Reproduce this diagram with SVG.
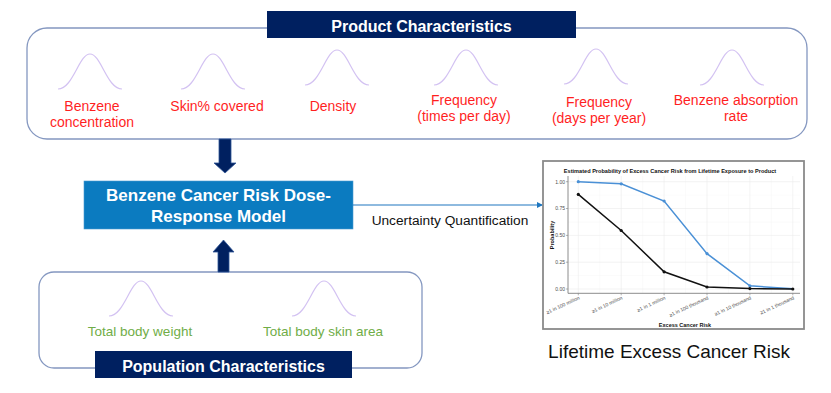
<svg xmlns="http://www.w3.org/2000/svg" xmlns:xlink="http://www.w3.org/1999/xlink" width="831" height="393" viewBox="0 0 831 393">
<style>
.frame{fill:#fff;stroke:#8497C0;stroke-width:1.3}
.bar{fill:#002060}
.bartxt{font-family:"Liberation Sans",Arial,sans-serif;font-weight:bold;font-size:16px;fill:#fff;text-anchor:middle}
.bell{fill:none;stroke:#D3C2F2;stroke-width:1.2}
.red{font-family:"Liberation Sans",Arial,sans-serif;font-size:14px;fill:#FF1F1F;text-anchor:middle}
.green{font-family:"Liberation Sans",Arial,sans-serif;font-size:13.5px;fill:#70AD47;text-anchor:middle}
.blk{fill:#002060;stroke:#2F5597;stroke-width:0.8}
.ct{font-family:"Liberation Sans",Arial,sans-serif}
.grid{stroke:#EBEBEB;stroke-width:0.6}
.gridm{stroke:#F4F4F4;stroke-width:0.4}
.tick{font-family:"Liberation Sans",Arial,sans-serif;font-size:5px;fill:#4D4D4D}
</style>
<defs>
<path id="bell" d="M-32,0 C-17,0 -11,-35 0,-35 C11,-35 17,0 32,0"/>
<marker id="ah" markerWidth="6" markerHeight="6" refX="5" refY="3" orient="auto" markerUnits="userSpaceOnUse">
<path d="M0,0 L6,3 L0,6 z" fill="#1F77C0"/>
</marker>
</defs>
<rect width="831" height="393" fill="#fff"/>

<g id="product-characteristics">
<rect class="frame" x="27" y="28" width="780" height="111" rx="20"/>
<rect class="bar" x="267" y="11" width="309" height="27"/>
<text class="bartxt" x="421.5" y="31.5">Product Characteristics</text>
<use xlink:href="#bell" class="bell" x="90" y="89"/>
<use xlink:href="#bell" class="bell" x="213" y="89"/>
<use xlink:href="#bell" class="bell" x="337" y="85"/>
<use xlink:href="#bell" class="bell" x="466" y="85"/>
<use xlink:href="#bell" class="bell" x="596" y="84"/>
<use xlink:href="#bell" class="bell" x="732" y="85"/>
<text class="red" x="92" y="111">Benzene</text>
<text class="red" x="92" y="127">concentration</text>
<text class="red" x="217" y="111">Skin% covered</text>
<text class="red" x="333" y="111">Density</text>
<text class="red" x="464" y="105">Frequency</text>
<text class="red" x="464" y="121">(times per day)</text>
<text class="red" x="599" y="107">Frequency</text>
<text class="red" x="599" y="123">(days per year)</text>
<text class="red" x="736" y="105">Benzene absorption</text>
<text class="red" x="736" y="121">rate</text>
</g>

<g id="dose-response-model">
<rect x="84" y="181" width="269" height="48" fill="#0B7BC0" stroke="#4A9AD0" stroke-width="0.6"/>
<text class="bartxt" style="font-size:17px" x="218.5" y="201">Benzene Cancer Risk Dose-</text>
<text class="bartxt" style="font-size:17px" x="218.5" y="222">Response Model</text>
</g>

<g id="population-characteristics">
<rect class="frame" x="39" y="272" width="383" height="96" rx="15"/>
<use xlink:href="#bell" class="bell" x="141" y="316"/>
<use xlink:href="#bell" class="bell" x="324" y="316"/>
<text class="green" x="140" y="336">Total body weight</text>
<text class="green" x="323" y="336">Total body skin area</text>
<rect class="bar" x="95" y="351" width="257" height="27"/>
<text class="bartxt" x="223.5" y="371.5">Population Characteristics</text>
</g>

<g id="connectors">
<polygon class="blk" points="219,139 231,139 231,163 236,163 225,173 214,163 219,163"/>
<polygon class="blk" points="223.5,240 234,252 229,252 229,272 218,272 218,252 213,252"/>
<line x1="353" y1="205" x2="542" y2="205" stroke="#1F77C0" stroke-width="1.2" marker-end="url(#ah)"/>
<text class="ct" x="450" y="225" font-size="13.7" text-anchor="middle" fill="#111">Uncertainty Quantification</text>
</g>

<g id="risk-chart">
<rect x="543" y="161" width="261" height="168" fill="#fff" stroke="#8A8A8A" stroke-width="1.8"/>
<text class="ct" x="670" y="173" font-size="5.6" font-weight="bold" text-anchor="middle" fill="#111">Estimated Probability of Excess Cancer Risk from Lifetime Exposure to Product</text>
<g>
<line class="gridm" x1="568" y1="275.6" x2="800" y2="275.6"/>
<line class="gridm" x1="568" y1="248.8" x2="800" y2="248.8"/>
<line class="gridm" x1="568" y1="222.1" x2="800" y2="222.1"/>
<line class="gridm" x1="568" y1="195.2" x2="800" y2="195.2"/>
<line class="gridm" x1="599.8" y1="176" x2="599.8" y2="293"/>
<line class="gridm" x1="642.7" y1="176" x2="642.7" y2="293"/>
<line class="gridm" x1="685.6" y1="176" x2="685.6" y2="293"/>
<line class="gridm" x1="728.5" y1="176" x2="728.5" y2="293"/>
<line class="gridm" x1="771.4" y1="176" x2="771.4" y2="293"/>
<line class="grid" x1="568" y1="289" x2="800" y2="289"/>
<line class="grid" x1="568" y1="262.2" x2="800" y2="262.2"/>
<line class="grid" x1="568" y1="235.4" x2="800" y2="235.4"/>
<line class="grid" x1="568" y1="208.5" x2="800" y2="208.5"/>
<line class="grid" x1="568" y1="181.7" x2="800" y2="181.7"/>
<line class="grid" x1="578.3" y1="176" x2="578.3" y2="293"/>
<line class="grid" x1="621.2" y1="176" x2="621.2" y2="293"/>
<line class="grid" x1="664.1" y1="176" x2="664.1" y2="293"/>
<line class="grid" x1="707" y1="176" x2="707" y2="293"/>
<line class="grid" x1="749.9" y1="176" x2="749.9" y2="293"/>
<line class="grid" x1="792.8" y1="176" x2="792.8" y2="293"/>
</g>
<path d="M568,176 V293.3 H800" fill="none" stroke="#7F7F7F" stroke-width="0.9"/>
<g stroke="#7F7F7F" stroke-width="0.6">
<line x1="566" y1="289" x2="568" y2="289"/><line x1="566" y1="262.2" x2="568" y2="262.2"/><line x1="566" y1="235.4" x2="568" y2="235.4"/><line x1="566" y1="208.5" x2="568" y2="208.5"/><line x1="566" y1="181.7" x2="568" y2="181.7"/>
<line x1="578.3" y1="293.3" x2="578.3" y2="295.3"/><line x1="621.2" y1="293.3" x2="621.2" y2="295.3"/><line x1="664.1" y1="293.3" x2="664.1" y2="295.3"/><line x1="707" y1="293.3" x2="707" y2="295.3"/><line x1="749.9" y1="293.3" x2="749.9" y2="295.3"/><line x1="792.8" y1="293.3" x2="792.8" y2="295.3"/>
</g>
<g class="tick" text-anchor="end">
<text x="565" y="290.8">0.00</text>
<text x="565" y="264">0.25</text>
<text x="565" y="237.2">0.50</text>
<text x="565" y="210.3">0.75</text>
<text x="565" y="183.5">1.00</text>
</g>
<g class="tick" text-anchor="end" font-size="4.8">
<text transform="translate(580,299) rotate(-25)">≥1 in 100 million</text>
<text transform="translate(622.9,299) rotate(-25)">≥1 in 10 million</text>
<text transform="translate(665.8,299) rotate(-25)">≥1 in 1 million</text>
<text transform="translate(708.7,299) rotate(-25)">≥1 in 100 thousand</text>
<text transform="translate(751.6,299) rotate(-25)">≥1 in 10 thousand</text>
<text transform="translate(794.5,299) rotate(-25)">≥1 in 1 thousand</text>
</g>
<text class="ct" x="685" y="327" font-size="5.5" font-weight="bold" text-anchor="middle" fill="#111">Excess Cancer Risk</text>
<text class="ct" transform="translate(554,235) rotate(-90)" font-size="5.5" font-weight="bold" text-anchor="middle" fill="#111">Probability</text>
<polyline points="578.3,181.7 621.2,183.8 664.1,201 707,253.6 749.9,285.8 792.8,288.8" fill="none" stroke="#4A90D6" stroke-width="1.5"/>
<g fill="#4A90D6">
<circle cx="578.3" cy="181.7" r="1.6"/><circle cx="621.2" cy="183.8" r="1.6"/><circle cx="664.1" cy="201" r="1.6"/><circle cx="707" cy="253.6" r="1.6"/><circle cx="749.9" cy="285.8" r="1.6"/>
</g>
<polyline points="578.3,194.4 621.2,230.5 664.1,271.8 707,287 749.9,288.6 792.8,289" fill="none" stroke="#111" stroke-width="1.5"/>
<g fill="#111">
<circle cx="578.3" cy="194.4" r="1.6"/><circle cx="621.2" cy="230.5" r="1.6"/><circle cx="664.1" cy="271.8" r="1.6"/><circle cx="707" cy="287" r="1.6"/><circle cx="749.9" cy="288.6" r="1.6"/><circle cx="792.8" cy="289" r="1.6"/>
</g>
</g>

<g id="lifetime-label">
<text class="ct" x="669" y="357.5" font-size="19" text-anchor="middle" fill="#111">Lifetime Excess Cancer Risk</text>
</g>
</svg>
